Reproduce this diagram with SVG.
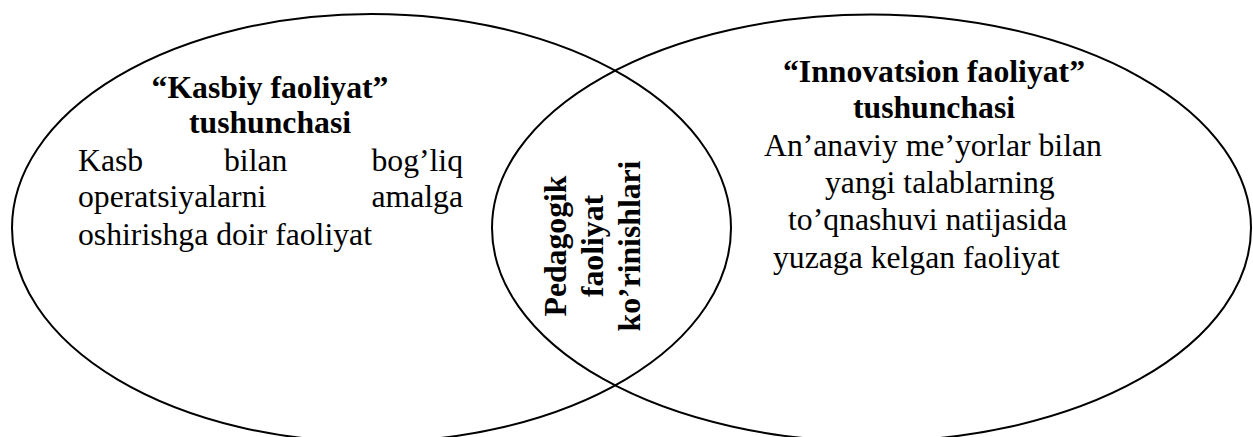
<svg xmlns="http://www.w3.org/2000/svg" width="1253" height="437" viewBox="0 0 1253 437">
<style>
.shape{fill:none;stroke:#000;stroke-width:2}
.t{font-size:31.7px;fill:#000}
.b{font-weight:bold}
</style>
<rect width="1253" height="437" fill="#fff"/>
<g id="connectors"></g>
<g font-family="Liberation Serif, Times New Roman, serif">
<g id="node-kasbiy">
<ellipse class="shape" cx="371.5" cy="228" rx="359.5" ry="214"/>
<text class="t b" x="270" y="98" text-anchor="middle">“Kasbiy faoliyat”</text>
<text class="t b" x="270" y="133" text-anchor="middle">tushunchasi</text>
<text class="t" x="78" y="171">Kasb</text>
<text class="t" x="224" y="171">bilan</text>
<text class="t" x="463" y="171" text-anchor="end">bog’liq</text>
<text class="t" x="78" y="207">operatsiyalarni</text>
<text class="t" x="463" y="207" text-anchor="end">amalga</text>
<text class="t" x="78" y="245">oshirishga doir faoliyat</text>
</g>
<g id="node-innovatsion">
<ellipse class="shape" cx="871.5" cy="228" rx="379.5" ry="213.5"/>
<text class="t b" x="934" y="82" text-anchor="middle">“Innovatsion faoliyat”</text>
<text class="t b" x="934" y="118" text-anchor="middle">tushunchasi</text>
<text class="t" x="764" y="156">An’anaviy me’yorlar bilan</text>
<text class="t" x="825" y="193">yangi talablarning</text>
<text class="t" x="788" y="230">to’qnashuvi natijasida</text>
<text class="t" x="773" y="268">yuzaga kelgan faoliyat</text>
</g>
<g id="node-pedagogik" transform="translate(603,246) rotate(-90)">
<text class="t b" x="0" y="-37" text-anchor="middle">Pedagogik</text>
<text class="t b" x="0" y="0" text-anchor="middle">faoliyat</text>
<text class="t b" x="0" y="37" text-anchor="middle">ko’rinishlari</text>
</g>
</g>
</svg>
